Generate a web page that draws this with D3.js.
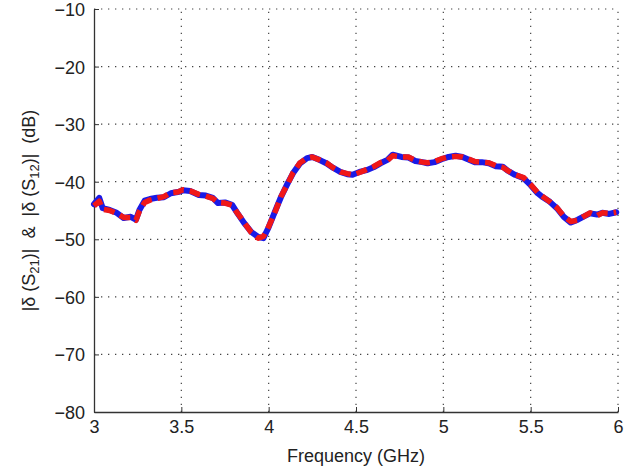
<!DOCTYPE html>
<html>
<head>
<meta charset="utf-8">
<script src="https://cdnjs.cloudflare.com/ajax/libs/d3/7.8.5/d3.min.js"></script>
<style>
  body { margin: 0; background: #fff; }
  text { font-family: "Liberation Sans", Arial, sans-serif; fill: #222; }
</style>
</head>
<body>
<div id="chart"></div>
<script>
// frequency points (GHz)
const freq = [3.00, 3.03, 3.05, 3.09, 3.13, 3.17, 3.21, 3.24, 3.26, 3.29, 3.32, 3.36, 3.40, 3.44, 3.48, 3.51,
  3.55, 3.60, 3.64, 3.68, 3.71, 3.75, 3.79, 3.82, 3.86, 3.90, 3.94, 3.97, 4.00, 4.04, 4.07, 4.11, 4.14,
  4.18, 4.22, 4.25, 4.29, 4.33, 4.37, 4.41, 4.45, 4.48, 4.52, 4.56, 4.60, 4.64, 4.68, 4.71, 4.76, 4.80,
  4.84, 4.88, 4.91, 4.95, 4.99, 5.03, 5.07, 5.11, 5.14, 5.18, 5.22, 5.26, 5.30, 5.34, 5.37, 5.41, 5.46,
  5.50, 5.54, 5.57, 5.61, 5.65, 5.69, 5.73, 5.77, 5.80, 5.84, 5.88, 5.91, 5.95, 5.99];
// |δ(S21)| dB (blue)
const s21 = [-43.9, -42.8, -44.6, -44.9, -45.4, -46.3, -46.1, -46.6, -44.9, -43.3, -43.0, -42.8, -42.7, -42.0, -41.8, -41.5,
  -41.6, -42.3, -42.4, -42.8, -43.7, -43.6, -44.0, -45.4, -47.2, -48.7, -49.6, -49.8, -47.9, -44.9, -42.7, -40.2, -38.5,
  -36.8, -35.9, -35.7, -36.2, -36.8, -37.6, -38.3, -38.7, -38.8, -38.3, -38.0, -37.5, -36.8, -36.2, -35.3, -35.7, -35.8,
  -36.4, -36.6, -36.8, -36.6, -36.1, -35.7, -35.5, -35.7, -36.1, -36.6, -36.6, -36.8, -37.3, -37.4, -38.1, -38.8, -39.4,
  -40.6, -42.0, -42.7, -43.5, -44.6, -46.1, -47.1, -46.6, -46.1, -45.5, -45.7, -45.4, -45.6, -45.3];
// |δ(S12)| dB (red)
const s12 = [-44.2, -43.4, -44.8, -45.0, -45.5, -46.2, -46.2, -46.7, -45.1, -43.6, -43.2, -42.9, -42.6, -41.9, -41.8, -41.4,
  -41.6, -42.2, -42.5, -42.9, -43.6, -43.7, -44.1, -45.4, -47.1, -48.8, -49.8, -49.5, -47.8, -45.0, -42.6, -40.3, -38.4,
  -36.7, -35.9, -35.7, -36.2, -36.7, -37.6, -38.3, -38.6, -38.8, -38.4, -37.9, -37.4, -36.7, -36.3, -35.5, -35.7, -35.7,
  -36.3, -36.6, -36.7, -36.5, -36.0, -35.7, -35.6, -35.7, -36.0, -36.5, -36.6, -36.7, -37.2, -37.5, -38.1, -38.8, -39.3,
  -40.5, -41.9, -42.6, -43.5, -44.5, -46.0, -46.9, -46.7, -46.1, -45.4, -45.9, -45.4, -45.5, -45.3];

const xTicks = [3, 3.5, 4, 4.5, 5, 5.5, 6];
const yTicks = [-80, -70, -60, -50, -40, -30, -20, -10];

const W = 634, H = 469;
const m = {left: 94, right: 16, top: 9, bottom: 57};

const svg = d3.select('#chart').append('svg').attr('width', W).attr('height', H);

const x = d3.scaleLinear().domain([3, 6]).range([m.left, W - m.right]);
const y = d3.scaleLinear().domain([-80, -10]).range([H - m.bottom, m.top]);

// grid
const grid = svg.append('g').attr('stroke', '#444').attr('stroke-width', 1.2)
  .attr('stroke-dasharray', '1.3,5.7');
grid.selectAll('.gx').data(xTicks.slice(1)).enter().append('line')
  .attr('x1', d => x(d)).attr('x2', d => x(d))
  .attr('y1', y(-80)).attr('y2', y(-10));
grid.selectAll('.gy').data(yTicks.slice(1)).enter().append('line')
  .attr('x1', x(3)).attr('x2', x(6))
  .attr('y1', d => y(d)).attr('y2', d => y(d));

// axes
const fmt = d => d < 0 ? '\u2212' + Math.abs(d) : String(d);
const xAxis = svg.append('g').attr('transform', `translate(0,${y(-80)})`)
  .call(d3.axisBottom(x).tickValues(xTicks).tickFormat(fmt).tickSizeInner(-5).tickSizeOuter(0).tickPadding(8));
const yAxis = svg.append('g').attr('transform', `translate(${x(3)},0)`)
  .call(d3.axisLeft(y).tickValues(yTicks).tickFormat(fmt).tickSizeInner(-5).tickSizeOuter(0).tickPadding(9));
[xAxis, yAxis].forEach(a => {
  a.select('.domain').attr('stroke', '#333').attr('stroke-width', 1.3);
  a.selectAll('.tick line').attr('stroke', '#333');
  a.selectAll('text').attr('font-size', 18).attr('fill', '#222')
    .attr('font-family', '"Liberation Sans", Arial, sans-serif');
});
yAxis.selectAll('text').attr('dy', '0.36em');

// curves
const line = vals => d3.line().x((d, i) => x(freq[i])).y(d => y(d)).curve(d3.curveLinear)(vals);
svg.append('path').attr('d', line(s21)).attr('fill', 'none')
  .attr('stroke', '#1a1ae6').attr('stroke-width', 6).attr('stroke-linejoin', 'round').attr('stroke-linecap', 'round');
svg.append('path').attr('d', line(s12)).attr('fill', 'none')
  .attr('stroke', '#f01818').attr('stroke-width', 5.5).attr('stroke-dasharray', '11,6').attr('stroke-linejoin', 'round');

// labels
svg.append('text').attr('x', x(4.5)).attr('y', 462).attr('text-anchor', 'middle')
  .attr('font-size', 18).text('Frequency (GHz)');

const yl = svg.append('text').attr('transform', `translate(35,${y(-45)}) rotate(-90)`)
  .attr('text-anchor', 'middle').attr('font-size', 18);
yl.append('tspan').text('|\u03b4 (S');
yl.append('tspan').attr('font-size', 13).attr('dy', 4).text('21');
yl.append('tspan').attr('dy', -4).text(')|  &  |\u03b4 (S');
yl.append('tspan').attr('font-size', 13).attr('dy', 4).text('12');
yl.append('tspan').attr('dy', -4).text(')|  (dB)');
yl.attr('xml:space', 'preserve').style('white-space', 'pre');
</script>
</body>
</html>
